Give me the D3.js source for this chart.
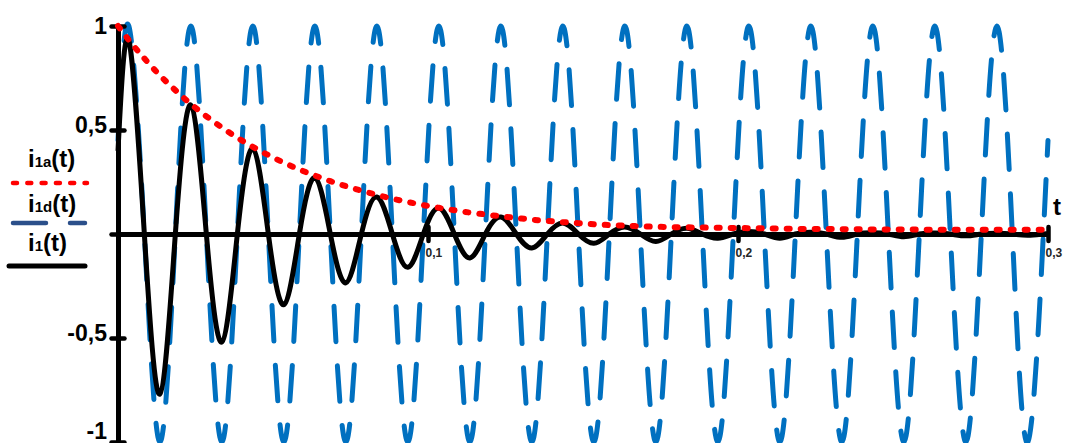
<!DOCTYPE html>
<html>
<head>
<meta charset="utf-8">
<script src="https://cdn.jsdelivr.net/npm/d3@7"></script>
<style>
  body { margin: 0; background: #fff; }
  svg { display: block; font-family: "Liberation Sans", Arial, sans-serif; font-weight: bold; }
</style>
</head>
<body>
<script>
// sample times (s): start, then every quarter period of the 50 Hz wave, then end
const tGrid = [0, 0.0035, 0.0085, 0.0135, 0.0185, 0.0235, 0.0285, 0.0335, 0.0385, 0.0435, 0.0485,
  0.0535, 0.0585, 0.0635, 0.0685, 0.0735, 0.0785, 0.0835, 0.0885, 0.0935, 0.0985,
  0.1035, 0.1085, 0.1135, 0.1185, 0.1235, 0.1285, 0.1335, 0.1385, 0.1435, 0.1485,
  0.1535, 0.1585, 0.1635, 0.1685, 0.1735, 0.1785, 0.1835, 0.1885, 0.1935, 0.1985,
  0.2035, 0.2085, 0.2135, 0.2185, 0.2235, 0.2285, 0.2335, 0.2385, 0.2435, 0.2485,
  0.2535, 0.2585, 0.2635, 0.2685, 0.2735, 0.2785, 0.2835, 0.2885, 0.2935, 0.2985, 0.3];

// i1d(t) - blue dashed
const i1d = [0.45,
  1, 0, -1, 0, 1, 0, -1, 0, 1, 0, -1, 0, 1, 0, -1, 0, 1, 0, -1, 0,
  1, 0, -1, 0, 1, 0, -1, 0, 1, 0, -1, 0, 1, 0, -1, 0, 1, 0, -1, 0,
  1, 0, -1, 0, 1, 0, -1, 0, 1, 0, -1, 0, 1, 0, -1, 0, 1, 0, -1, 0,
  0.45];

// i1(t) - black
const i1 = [0.4,
  0.93, 0, -0.77, 0, 0.62, 0, -0.52, 0, 0.41, 0, -0.34, 0, 0.27, 0, -0.235, 0, 0.178, 0, -0.16, 0,
  0.125, 0, -0.115, 0, 0.082, 0, -0.067, 0, 0.053, 0, -0.045, 0, 0.034, 0, -0.036, 0, 0.028, 0, -0.02, 0,
  0.012, 0, -0.02, 0, 0.008, 0, -0.016, 0, 0.006, 0, -0.013, 0, 0.005, 0, -0.009, 0, 0.004, 0, -0.006, 0,
  0];

// i1a(t) - red dotted envelope
const i1a = [1,
  0.932, 0.844, 0.763, 0.691, 0.625, 0.566, 0.512, 0.463, 0.419, 0.379,
  0.343, 0.31, 0.281, 0.254, 0.23, 0.208, 0.188, 0.17, 0.154, 0.139,
  0.126, 0.114, 0.103, 0.094, 0.085, 0.077, 0.069, 0.063, 0.057, 0.052,
  0.047, 0.043, 0.04, 0.037, 0.035, 0.033, 0.032, 0.031, 0.03, 0.029,
  0.028, 0.027, 0.026, 0.025, 0.024, 0.024, 0.023, 0.023, 0.022, 0.022,
  0.022, 0.021, 0.021, 0.021, 0.02, 0.02, 0.02, 0.02, 0.02, 0.02,
  0.02];

const yTicks = [-1, -0.5, 0, 0.5, 1];
const xTicks = [0.1, 0.2, 0.3];
const legendSubs = ['1a', '1d', '1'];

const W = 1070, H = 443;
const svg = d3.select('body').append('svg')
  .attr('width', W)
  .attr('height', H);

const x = d3.scaleLinear().domain([0, 0.3]).range([118, 1048]);
const y = d3.scaleLinear().domain([-1, 1]).range([442, 26]);
const comma = d => String(d).replace('.', ',');

function lineOf(vals, curve) {
  return d3.line()
    .x((d, i) => x(tGrid[i]))
    .y(d => y(d))
    .curve(curve)(vals);
}

// blue wave
const bluePath = svg.append('path')
  .attr('d', lineOf(i1d, d3.curveNatural))
  .attr('fill', 'none')
  .attr('stroke', '#0070c0')
  .attr('stroke-width', 5)
  .attr('stroke-linecap', 'round');

// dash pattern that repeats once per period, with a dash sitting on each peak
const bNode = bluePath.node();
const perPeriod = bNode.getTotalLength() / 15;
const nDash = 2 * Math.max(1, Math.round(perPeriod / 124));
const P = perPeriod / nDash;
const dash = P * 0.68 - 5;
let s0 = 0, minY = Infinity;
for (let s = 0; s < 250; s += 0.5) {
  const p = bNode.getPointAtLength(s);
  if (p.y < minY) { minY = p.y; s0 = s; }
}
bluePath.attr('stroke-dasharray', dash + ',' + (P - dash))
  .attr('stroke-dashoffset', dash / 2 - s0);

// y axis
const yAxis = svg.append('g')
  .attr('transform', 'translate(118,0)')
  .call(d3.axisLeft(y).tickValues(yTicks).tickSize(0).tickFormat(d => d === 0 ? '' : comma(d)));
yAxis.select('.domain').attr('stroke', '#000').attr('stroke-width', 5);
yAxis.selectAll('.tick line')
  .attr('x1', -6.5).attr('x2', 6.5)
  .attr('stroke', '#000').attr('stroke-width', 4.5).attr('stroke-linecap', 'round');
yAxis.selectAll('.tick text')
  .attr('x', -11)
  .attr('dy', null)
  .attr('y', d => Math.min(Math.max(y(d) + 2, 33), 438) - y(d))
  .attr('font-size', 23)
  .attr('font-family', '"Liberation Sans", Arial, sans-serif')
  .attr('font-weight', 'bold')
  .attr('fill', '#000');

// x axis
const xAxis = svg.append('g')
  .attr('transform', 'translate(0,' + y(0) + ')')
  .call(d3.axisBottom(x).tickValues(xTicks).tickSize(0).tickFormat(comma));
xAxis.select('.domain').attr('stroke', '#000').attr('stroke-width', 5);
xAxis.selectAll('.tick line')
  .attr('y1', -7).attr('y2', 7)
  .attr('stroke', '#000').attr('stroke-width', 4.5).attr('stroke-linecap', 'round');
xAxis.selectAll('.tick text')
  .attr('text-anchor', 'start')
  .attr('x', -3)
  .attr('dy', null)
  .attr('y', 23)
  .attr('font-size', 12)
  .attr('font-family', '"Liberation Sans", Arial, sans-serif')
  .attr('font-weight', 'bold')
  .attr('fill', '#262626');

// black damped oscillation
svg.append('path')
  .attr('d', lineOf(i1, d3.curveNatural))
  .attr('fill', 'none')
  .attr('stroke', '#000')
  .attr('stroke-width', 5)
  .attr('stroke-linejoin', 'round');

// red envelope
svg.append('path')
  .attr('d', lineOf(i1a, d3.curveMonotoneX))
  .attr('fill', 'none')
  .attr('stroke', '#ff0000')
  .attr('stroke-width', 6)
  .attr('stroke-linecap', 'round')
  .attr('stroke-dasharray', '3,11');

// axis name
svg.append('text')
  .attr('x', 1053)
  .attr('y', 215)
  .attr('font-size', 24)
  .text('t');

// legend
const legY = [167, 212, 251];
legendSubs.forEach((s, k) => {
  const t = svg.append('text')
    .attr('x', 28)
    .attr('y', legY[k])
    .attr('font-size', 24);
  t.append('tspan').text('i');
  t.append('tspan').attr('font-size', 15).text(s);
  t.append('tspan').text('(t)');
});
svg.append('line')
  .attr('x1', 13).attr('x2', 87).attr('y1', 183).attr('y2', 183)
  .attr('stroke', '#ff0000').attr('stroke-width', 4.5)
  .attr('stroke-linecap', 'round').attr('stroke-dasharray', '4,10.3');
svg.append('line')
  .attr('x1', 13).attr('x2', 85).attr('y1', 223).attr('y2', 223)
  .attr('stroke', '#2b4f8a').attr('stroke-width', 4.5)
  .attr('stroke-linecap', 'round').attr('stroke-dasharray', '33,24');
svg.append('line')
  .attr('x1', 9).attr('x2', 85).attr('y1', 266).attr('y2', 266)
  .attr('stroke', '#000').attr('stroke-width', 5)
  .attr('stroke-linecap', 'round');
</script>
</body>
</html>
